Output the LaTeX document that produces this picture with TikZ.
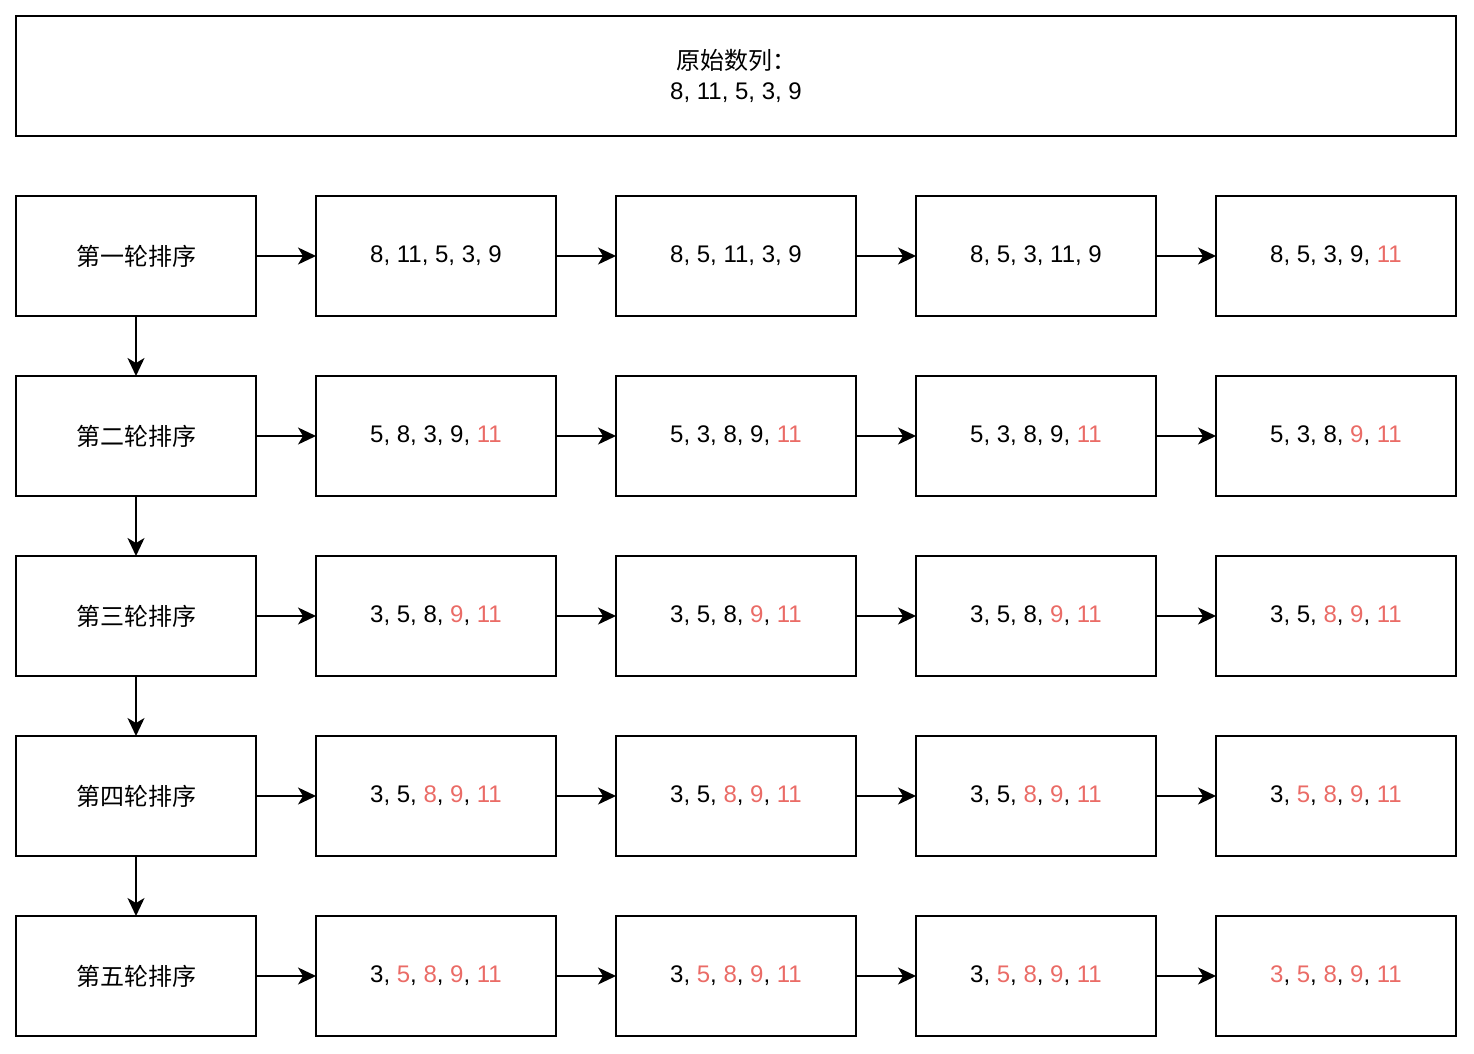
\documentclass[tikz,border=0pt]{standalone}
\usepackage{fontspec}
\setmainfont{Liberation Sans}
\newfontfamily\cjk{Noto Sans CJK SC}
\usetikzlibrary{arrows.meta}
\definecolor{hl}{HTML}{EA6B66}
\newcommand{\R}[1]{\textcolor{hl}{#1}}
\tikzset{
  box/.style={draw, line width=1.6pt, minimum width=240pt, minimum height=120pt, inner sep=0pt, outer sep=0pt, anchor=north west, font=\fontsize{24}{30}\selectfont, text=black},
  conn/.style={draw, line width=1.6pt, -{Stealth[length=18pt,width=17pt,inset=5pt]}}
}
\begin{document}
\begin{tikzpicture}[x=1pt,y=-1pt]
\useasboundingbox (0,0) rectangle (1474,1054);
\node[box, minimum width=1440pt, align=center] (top) at (16,16) {{\cjk 原始数列：}\\8, 11, 5, 3, 9};
% row 1
\node[box] (r1) at (16,196) {\cjk 第一轮排序};
\node[box] (a1) at (316,196) {8, 11, 5, 3, 9};
\node[box] (b1) at (616,196) {8, 5, 11, 3, 9};
\node[box] (c1) at (916,196) {8, 5, 3, 11, 9};
\node[box] (d1) at (1216,196) {8, 5, 3, 9, \R{11}};
% row 2
\node[box] (r2) at (16,376) {\cjk 第二轮排序};
\node[box] (a2) at (316,376) {5, 8, 3, 9, \R{11}};
\node[box] (b2) at (616,376) {5, 3, 8, 9, \R{11}};
\node[box] (c2) at (916,376) {5, 3, 8, 9, \R{11}};
\node[box] (d2) at (1216,376) {5, 3, 8, \R{9}, \R{11}};
% row 3
\node[box] (r3) at (16,556) {\cjk 第三轮排序};
\node[box] (a3) at (316,556) {3, 5, 8, \R{9}, \R{11}};
\node[box] (b3) at (616,556) {3, 5, 8, \R{9}, \R{11}};
\node[box] (c3) at (916,556) {3, 5, 8, \R{9}, \R{11}};
\node[box] (d3) at (1216,556) {3, 5, \R{8}, \R{9}, \R{11}};
% row 4
\node[box] (r4) at (16,736) {\cjk 第四轮排序};
\node[box] (a4) at (316,736) {3, 5, \R{8}, \R{9}, \R{11}};
\node[box] (b4) at (616,736) {3, 5, \R{8}, \R{9}, \R{11}};
\node[box] (c4) at (916,736) {3, 5, \R{8}, \R{9}, \R{11}};
\node[box] (d4) at (1216,736) {3, \R{5}, \R{8}, \R{9}, \R{11}};
% row 5
\node[box] (r5) at (16,916) {\cjk 第五轮排序};
\node[box] (a5) at (316,916) {3, \R{5}, \R{8}, \R{9}, \R{11}};
\node[box] (b5) at (616,916) {3, \R{5}, \R{8}, \R{9}, \R{11}};
\node[box] (c5) at (916,916) {3, \R{5}, \R{8}, \R{9}, \R{11}};
\node[box] (d5) at (1216,916) {\R{3}, \R{5}, \R{8}, \R{9}, \R{11}};
\foreach \i in {1,...,5}{
  \draw[conn] (r\i.east) -- (a\i.west);
  \draw[conn] (a\i.east) -- (b\i.west);
  \draw[conn] (b\i.east) -- (c\i.west);
  \draw[conn] (c\i.east) -- (d\i.west);
}
\draw[conn] (r1.south) -- (r2.north);
\draw[conn] (r2.south) -- (r3.north);
\draw[conn] (r3.south) -- (r4.north);
\draw[conn] (r4.south) -- (r5.north);
\end{tikzpicture}
\end{document}
